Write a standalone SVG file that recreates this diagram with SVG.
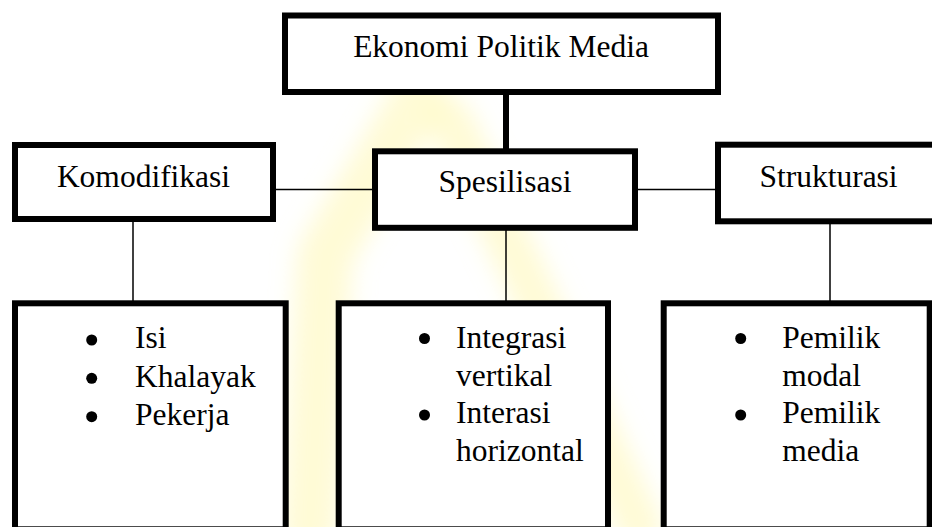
<svg xmlns="http://www.w3.org/2000/svg" width="932" height="527" viewBox="0 0 932 527">
  <style>
    .box { fill: #ffffff; stroke: #000000; stroke-width: 6; }
    .thin { stroke: #000000; stroke-width: 1.5; fill: none; }
    .thick { stroke: #000000; stroke-width: 6; fill: none; }
    text { font-family: "Liberation Serif", "Times New Roman", "DejaVu Serif", serif; font-size: 31.5px; fill: #000000; }
    .c { text-anchor: middle; }
    .wm { fill: none; stroke: #fff7b5; stroke-linecap: round; stroke-linejoin: round; opacity: 0.55; }
  </style>
  <defs>
    <filter id="blur" x="-50%" y="-50%" width="200%" height="200%">
      <feGaussianBlur stdDeviation="12"/>
    </filter>
  </defs>
  <rect x="0" y="0" width="932" height="527" fill="#ffffff"/>
  <g id="watermark" filter="url(#blur)">
    <polyline class="wm" stroke-width="55" points="420,95 325,255 310,527"/>
    <polyline class="wm" stroke-width="45" points="450,120 520,265 640,527"/>
  </g>
  <g id="connectors">
    <line class="thick" x1="506" y1="92" x2="506" y2="151"/>
    <line class="thin" x1="273" y1="189.5" x2="375" y2="189.5"/>
    <line class="thin" x1="635" y1="189.5" x2="718" y2="189.5"/>
    <line class="thin" x1="133" y1="219" x2="133" y2="303"/>
    <line class="thin" x1="506" y1="228" x2="506" y2="303"/>
    <line class="thin" x1="830" y1="221" x2="830" y2="303"/>
  </g>
  <g id="node-ekonomi">
    <rect class="box" x="285" y="15.5" width="433" height="76.5"/>
    <text class="c" x="501" y="57">Ekonomi Politik Media</text>
  </g>
  <g id="node-komodifikasi">
    <rect class="box" x="15" y="145" width="258" height="74"/>
    <text class="c" x="143.5" y="186.7">Komodifikasi</text>
  </g>
  <g id="node-spesilisasi">
    <rect class="box" x="375" y="151.3" width="260" height="76.5"/>
    <text class="c" x="505" y="191.8">Spesilisasi</text>
  </g>
  <g id="node-strukturasi">
    <rect class="box" x="718" y="144.7" width="222" height="76.6"/>
    <text class="c" x="828.5" y="186.7">Strukturasi</text>
  </g>
  <g id="node-komodifikasi-list">
    <rect class="box" x="15" y="303.3" width="270.7" height="226"/>
    <circle cx="91.7" cy="340" r="5.5"/>
    <circle cx="91.7" cy="378.3" r="5.5"/>
    <circle cx="91.7" cy="416.7" r="5.5"/>
    <text x="135" y="348.3">Isi</text>
    <text x="135" y="386.7">Khalayak</text>
    <text x="135" y="425">Pekerja</text>
  </g>
  <g id="node-spesilisasi-list">
    <rect class="box" x="338.7" y="303.3" width="269.3" height="226"/>
    <circle cx="424.5" cy="338.5" r="5.5"/>
    <circle cx="424.5" cy="415" r="5.5"/>
    <text x="456" y="348.3">Integrasi</text>
    <text x="456" y="385.5">vertikal</text>
    <text x="456" y="423.3">Interasi</text>
    <text x="456" y="460.7">horizontal</text>
  </g>
  <g id="node-strukturasi-list">
    <rect class="box" x="663.7" y="303.3" width="266" height="226"/>
    <circle cx="740.7" cy="338.5" r="5.5"/>
    <circle cx="740.7" cy="415" r="5.5"/>
    <text x="782.3" y="348.3">Pemilik</text>
    <text x="782.3" y="385.5">modal</text>
    <text x="782.3" y="423.3">Pemilik</text>
    <text x="782.3" y="461">media</text>
  </g>
</svg>
